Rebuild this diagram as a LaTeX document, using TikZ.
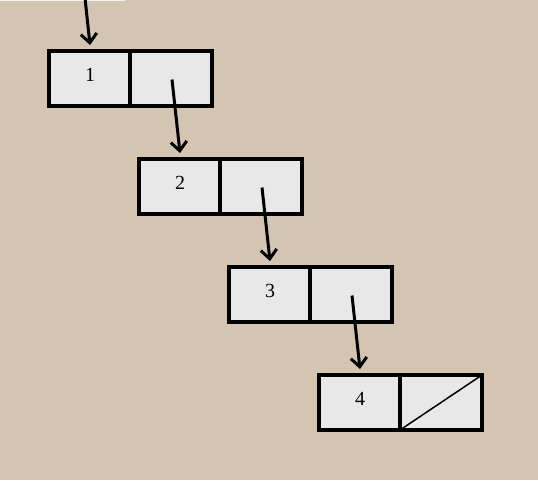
\documentclass[tikz,border=0pt]{standalone}
\usepackage{fontspec}
\setmainfont{Liberation Serif}
\usetikzlibrary{arrows.meta}
\definecolor{bg}{RGB}{212,196,178}
\definecolor{cellfill}{RGB}{232,232,232}
\newcommand\celltext{\fontsize{20}{24}\selectfont}
\begin{document}
\begin{tikzpicture}[x=1pt,y=-1pt,
  cell/.style={draw=black,fill=cellfill,line width=3.2pt,minimum width=82pt,minimum height=55pt,inner sep=0pt,outer sep=0pt,font=\celltext,text height=14pt,text depth=9pt},
  ptr/.style={line width=3pt,-{Straight Barb[length=9pt,width=16pt]}}]
\fill[bg] (0,0) rectangle (538,480);
\useasboundingbox (0,0) rectangle (538,480);
\draw[white!80!bg,line width=1pt] (0,0.5) -- (125,0.5);
% list cells: value part and link part
\node[cell] (v1) at (90,78.5) {1};
\node[cell] (n1) at (171,78.5) {};
\node[cell] (v2) at (180,186.5) {2};
\node[cell] (n2) at (261,186.5) {};
\node[cell] (v3) at (270,294.5) {3};
\node[cell] (n3) at (351,294.5) {};
\node[cell] (v4) at (360,402.5) {4};
\node[cell] (n4) at (441,402.5) {};
% null link
\draw[line width=1.5pt] (n4.south west) -- (n4.north east);
\coordinate (head) at (85,-2);
\draw[ptr] (head) -- ([yshift=6pt]v1.north);
\draw[ptr] ([xshift=1pt,yshift=-1pt]n1.center) -- ([yshift=6pt]v2.north);
\draw[ptr] ([xshift=1pt,yshift=-1pt]n2.center) -- ([yshift=6pt]v3.north);
\draw[ptr] ([xshift=1pt,yshift=-1pt]n3.center) -- ([yshift=6pt]v4.north);
\end{tikzpicture}
\end{document}
